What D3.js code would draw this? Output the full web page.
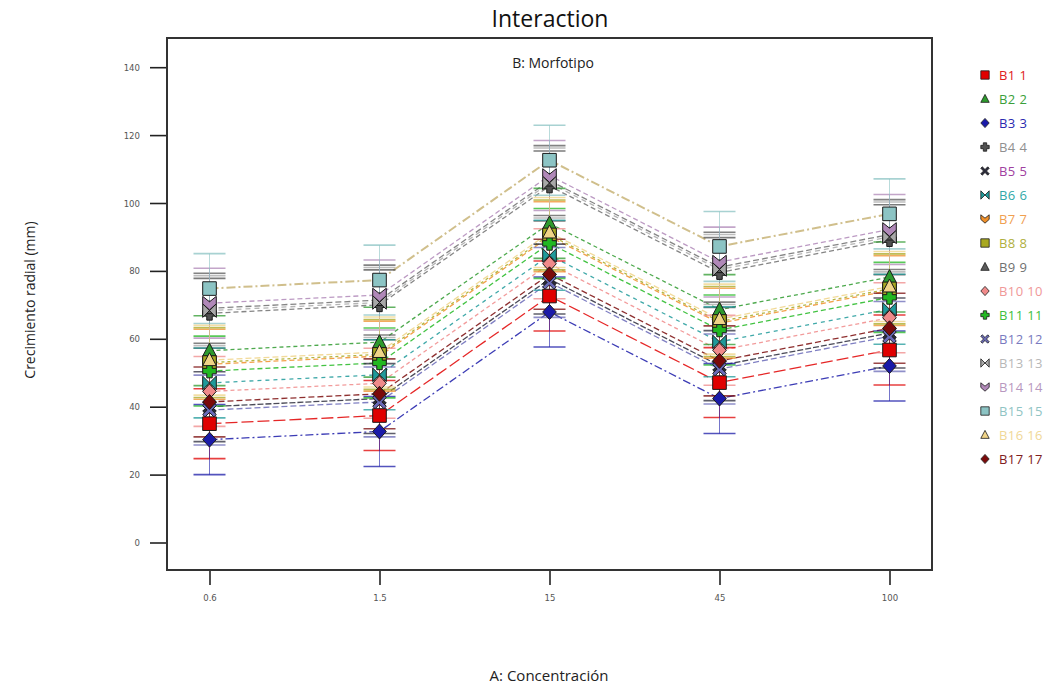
<!DOCTYPE html>
<html><head><meta charset="utf-8">
<script src="https://cdn.jsdelivr.net/npm/d3@7"></script>
<style>body{margin:0;background:#fff;} svg{display:block;font-family:"Open Sans","DejaVu Sans",sans-serif;}</style>
</head><body><svg id="c" width="1060" height="691"></svg>
<script>
const concentrations = ["0.6","1.5","15","45","100"];
const seriesNames = ["B1 1","B2 2","B3 3","B4 4","B5 5","B6 6","B7 7","B8 8","B9 9","B10 10","B11 11","B12 12","B13 13","B14 14","B15 15","B16 16","B17 17"];
const B1  = [35.0, 37.4, 72.6, 47.1, 56.7];
const B2  = [56.5, 59.0, 94.0, 68.6, 78.2];
const B3  = [30.3, 32.7, 67.9, 42.4, 52.0];
const B4  = [67.5, 70.0, 105.0, 79.5, 89.2];
const B5  = [40.0, 42.4, 77.6, 52.1, 61.7];
const B6  = [47.0, 49.4, 84.6, 59.1, 68.7];
const B7  = [52.5, 54.9, 90.1, 64.6, 74.2];
const B8  = [53.0, 55.4, 90.6, 65.1, 74.7];
const B9  = [69.0, 71.4, 106.6, 81.1, 90.7];
const B10 = [44.5, 46.9, 82.1, 56.6, 66.2];
const B11 = [50.5, 52.9, 88.1, 62.6, 72.2];
const B12 = [39.0, 41.4, 76.6, 51.1, 60.7];
const B13 = [68.3, 70.7, 105.9, 80.4, 90.0];
const B14 = [70.5, 72.9, 108.1, 82.6, 92.2];
const B15 = [74.8, 77.3, 112.6, 87.2, 96.8];
const B16 = [53.7, 56.1, 91.3, 65.8, 75.4];
const B17 = [41.4, 43.8, 79.0, 53.5, 63.1];
const lsdHalf = 10.3;
const yTicks = [0,20,40,60,80,100,120,140];

const seriesValues = [B1,B2,B3,B4,B5,B6,B7,B8,B9,B10,B11,B12,B13,B14,B15,B16,B17];
const colors = ["#e00000","#2e9a2e","#1a1aa8","#505050","#2a2a3a","#1f9a9a","#f0902a","#a8a820","#5a5a5a","#f08a8a","#22b822","#6a6ab8","#a8a8a8","#b088b8","#8cc4c4","#f0d488","#7a0a0a"];
const textColors = ["#e02020","#3aa03a","#2a2ab0","#909090","#a040a0","#30a8a8","#f0a050","#b0b040","#707070","#f09898","#40c040","#7a7ac0","#b8b8b8","#b898c0","#90c4c4","#f0d898","#802020"];
const lineColors = ["#e00000","#2e9a2e","#1a1aa8","#707070","#2a2a3a","#1f9a9a","#f0902a","#a8a820","#707070","#f08a8a","#22b822","#6a6ab8","#a8a8a8","#b088b8","#c8b478","#f0d488","#7a0a0a"];
const dashes = ["12,4","4,3","8,3,2,3","5,3","6,2","4,4","5,3","3,3","6,3","4,3","5,3","6,3","5,4","5,3","9,3,2,3","6,3","6,3"];
const shapes = ["square","triangle","diamond","plus","x","bowtie","chevron"];

const svg = d3.select("#c");
const L=167,R=932,T=38,B=570;
const x = d3.scalePoint().domain(concentrations).range([L,R]).padding(0.25);
const y = d3.scaleLinear().domain([-8.1,148.6]).range([B,T]);

svg.append("text").attr("x",550).attr("y",27).attr("text-anchor","middle").attr("font-size",23).attr("fill","#111").text("Interaction");
svg.append("text").attr("x",553).attr("y",68).attr("text-anchor","middle").attr("font-size",14).attr("fill","#222").text("B: Morfotipo");
svg.append("text").attr("transform","translate(35,300) rotate(-90)").attr("text-anchor","middle").attr("font-size",14).attr("fill","#222").text("Crecimiento radial (mm)");
svg.append("text").attr("x",549).attr("y",681).attr("text-anchor","middle").attr("font-size",15).attr("fill","#222").text("A: Concentración");

const ya = svg.append("g").attr("transform",`translate(${L},0)`).call(d3.axisLeft(y).tickValues(yTicks).tickSize(17).tickPadding(10));
const xa = svg.append("g").attr("transform",`translate(0,${B})`).call(d3.axisBottom(x).tickSize(15).tickPadding(9));
[ya,xa].forEach(g=>{g.select(".domain").remove();g.selectAll("line").attr("stroke","#222").attr("stroke-width",1.6);g.selectAll("text").attr("font-size",9.5).attr("fill","#555").attr("font-family","'DejaVu Sans Condensed','DejaVu Sans',sans-serif");});

svg.append("rect").attr("x",L).attr("y",T).attr("width",R-L).attr("height",B-T).attr("fill","none").attr("stroke","#333").attr("stroke-width",2);

const line = d3.line().x((d,i)=>x(concentrations[i])).y(d=>y(d));
seriesValues.forEach((vals,s)=>{
  svg.append("path").attr("d",line(vals)).attr("fill","none").attr("stroke",lineColors[s])
    .attr("stroke-width", s===14?2:1.3).attr("stroke-dasharray",dashes[s]).attr("opacity",0.85);
});
seriesValues.forEach((vals,s)=>{
  vals.forEach((v,i)=>{
    const cx=x(concentrations[i]);
    svg.append("line").attr("x1",cx).attr("x2",cx).attr("y1",y(v-lsdHalf)).attr("y2",y(v+lsdHalf)).attr("stroke",colors[s]).attr("stroke-width",1).attr("opacity",0.6);
    [v-lsdHalf,v+lsdHalf].forEach(e=>{
      svg.append("line").attr("x1",cx-16).attr("x2",cx+16).attr("y1",y(e)).attr("y2",y(e)).attr("stroke",colors[s]).attr("stroke-width",1.6).attr("opacity",0.75);
    });
  });
});

function shapePath(kind,r){
  switch(kind){
    case "square": return `M${-r},${-r}H${r}V${r}H${-r}Z`;
    case "triangle": return `M0,${-r*1.1}L${r},${r*0.8}H${-r}Z`;
    case "diamond": return `M0,${-r*1.1}L${r},0L0,${r*1.1}L${-r},0Z`;
    case "plus": {const a=r*0.4; return `M${-a},${-r}H${a}V${-a}H${r}V${a}H${a}V${r}H${-a}V${a}H${-r}V${-a}H${-a}Z`;}
    case "x": {const a=r*0.35; return `M${-r},${-r+a}L${-r+a},${-r}L0,${-a}L${r-a},${-r}L${r},${-r+a}L${a},0L${r},${r-a}L${r-a},${r}L0,${a}L${-r+a},${r}L${-r},${r-a}L${-a},0Z`;}
    case "bowtie": return `M${-r},${-r}L0,0L${-r},${r}Z M${r},${-r}L0,0L${r},${r}Z`;
    case "chevron": return `M${-r},${-r}L0,${-r*0.2}L${r},${-r}V${r*0.1}L0,${r}L${-r},${r*0.1}Z`;
  }
}
seriesValues.forEach((vals,s)=>{
  vals.forEach((v,i)=>{
    svg.append("path").attr("d",shapePath(shapes[s%7],6.8)).attr("transform",`translate(${x(concentrations[i])},${y(v)})`)
      .attr("fill",colors[s]).attr("stroke","#1a1a1a").attr("stroke-width",1);
  });
});

const lg = svg.append("g");
seriesNames.forEach((n,s)=>{
  const yy = 75 + s*24;
  lg.append("path").attr("d",shapePath(shapes[s%7],4.2)).attr("transform",`translate(985,${yy})`).attr("fill",colors[s]).attr("stroke","#1a1a1a").attr("stroke-width",0.8);
  lg.append("text").attr("x",999).attr("y",yy+4.5).attr("font-size",13).attr("letter-spacing",0.4).attr("fill",textColors[s]).text(n);
});
</script></body></html>
